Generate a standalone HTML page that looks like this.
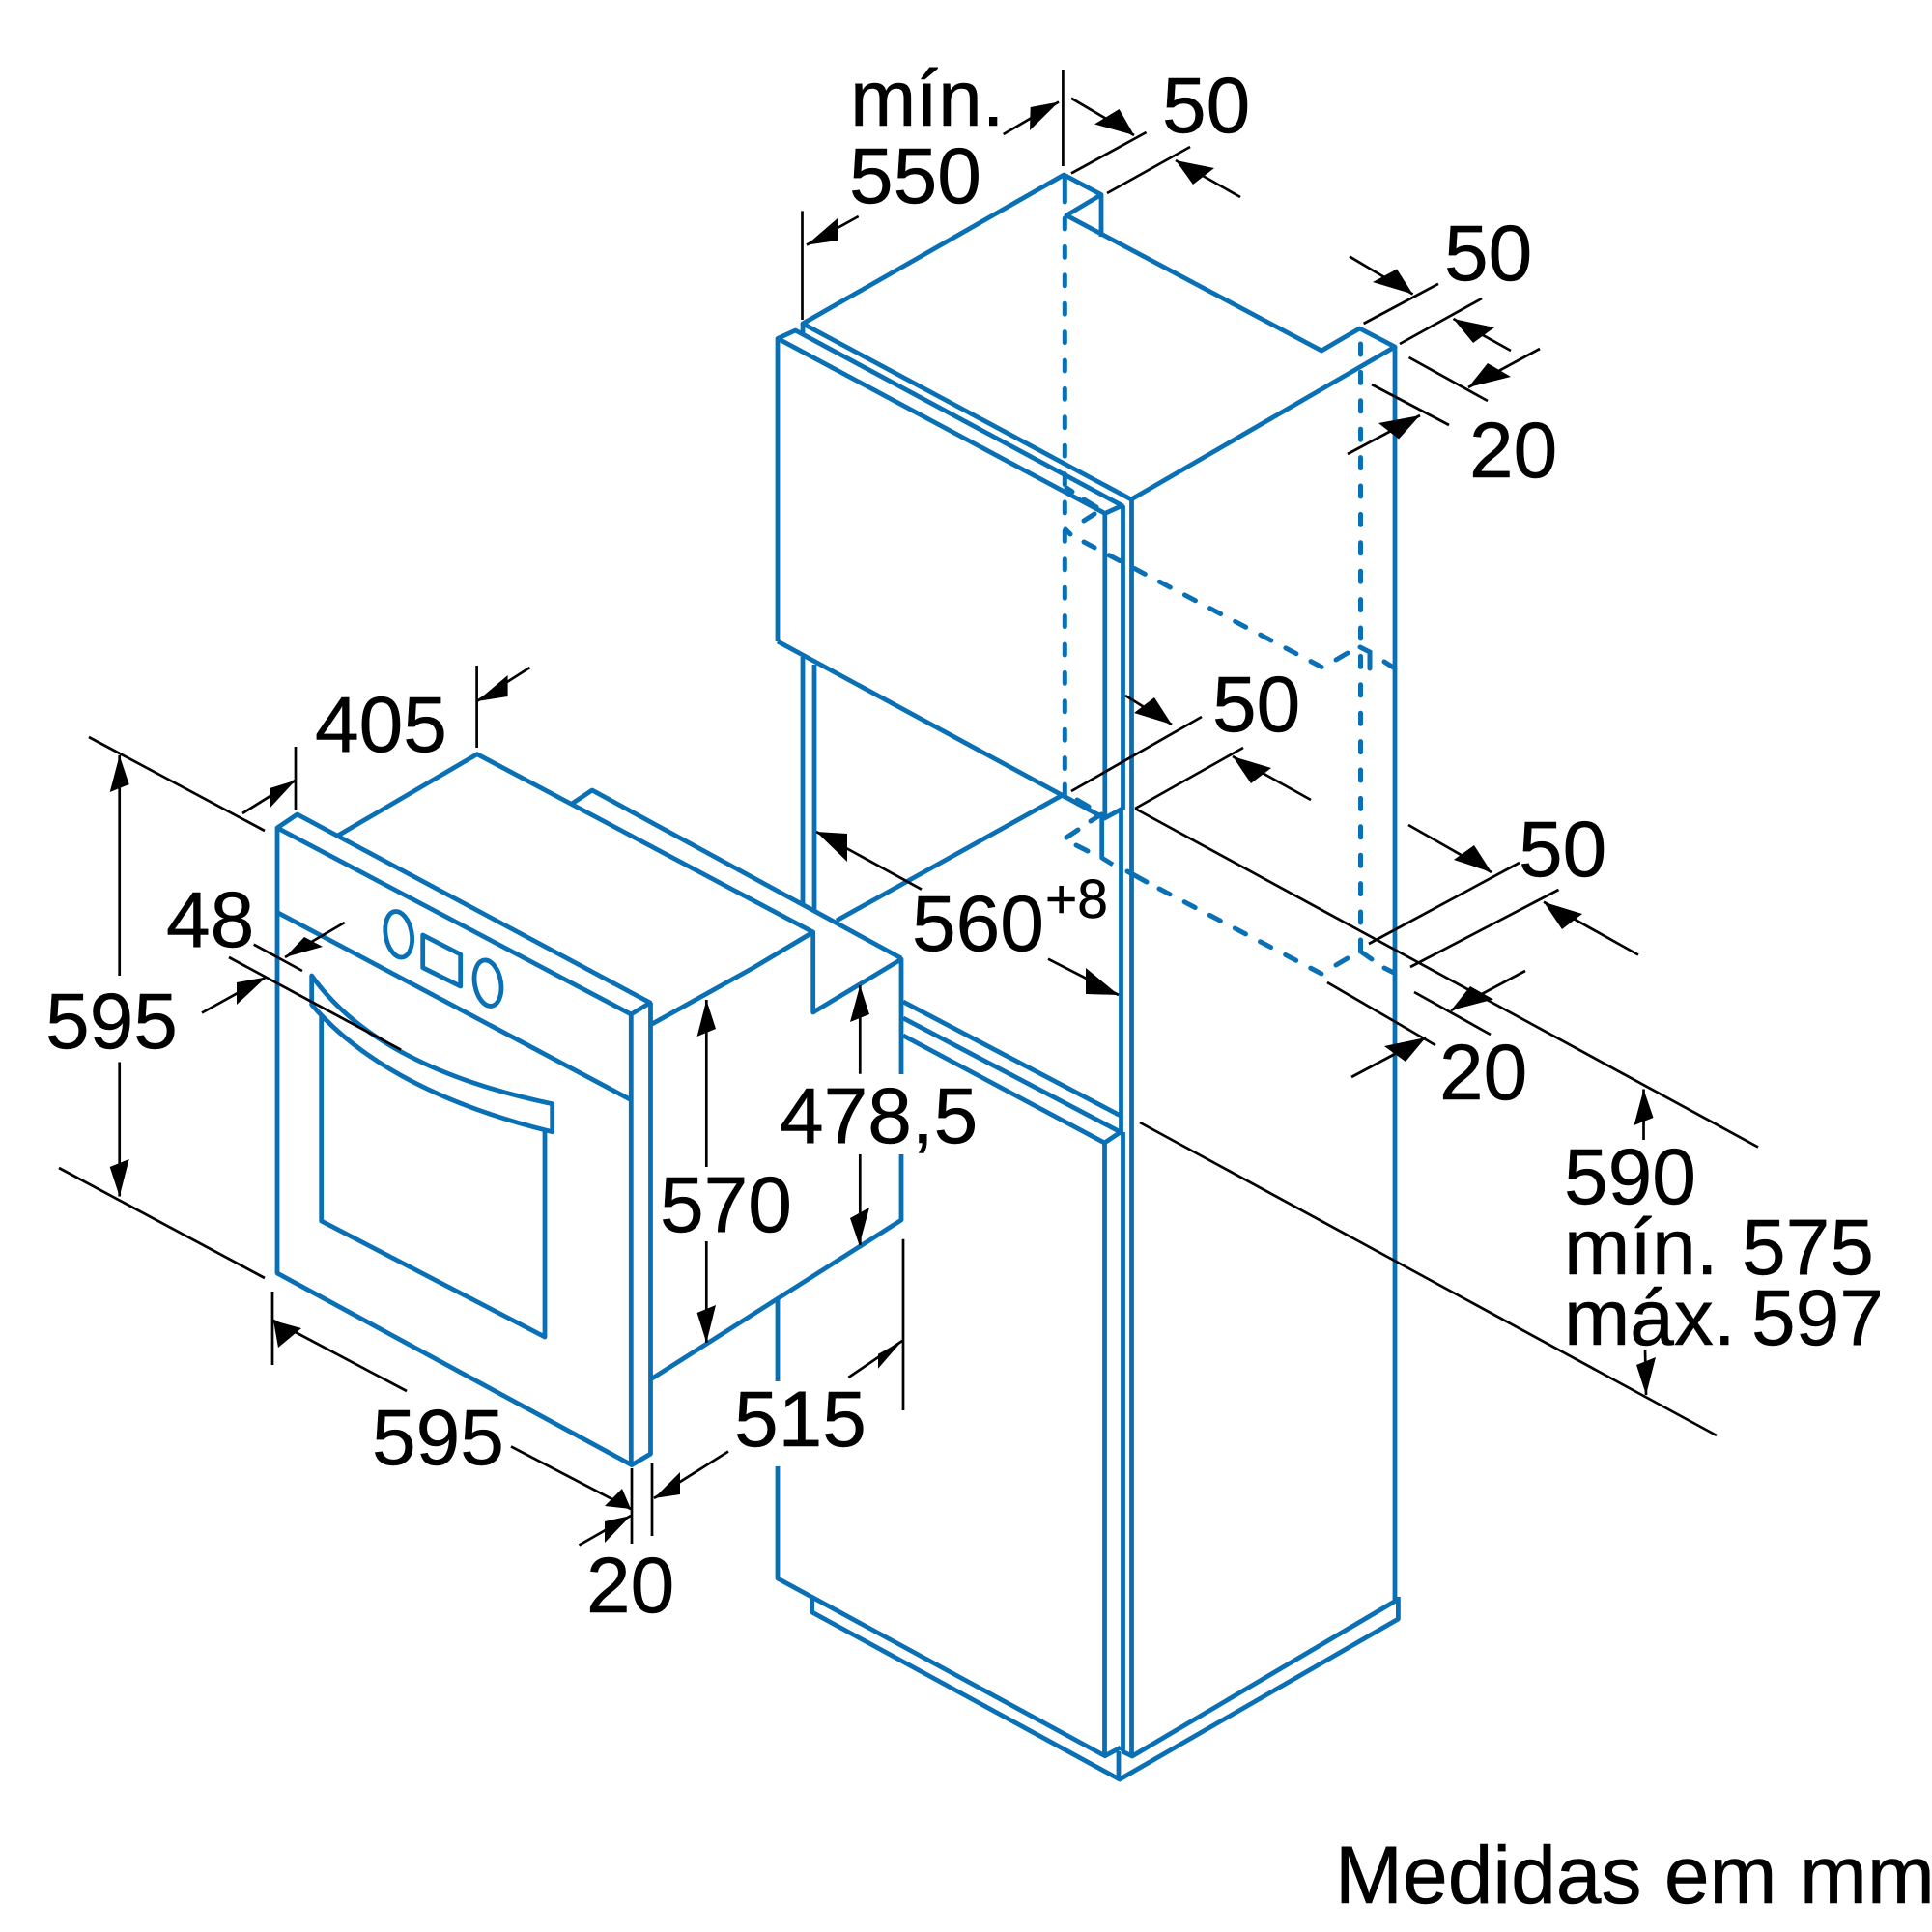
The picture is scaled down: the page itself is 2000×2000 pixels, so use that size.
<!DOCTYPE html>
<html><head><meta charset="utf-8"><style>
html,body{margin:0;padding:0;background:#fff}
svg{display:block}
text{font-family:"Liberation Sans",Arial,sans-serif;font-size:82px;fill:#000;stroke:#000;stroke-width:.5px}
</style></head><body>
<svg width="2000" height="2000" viewBox="0 0 2000 2000" xmlns="http://www.w3.org/2000/svg">
<rect width="2000" height="2000" fill="#fff"/>
<g fill="none" stroke="#0a70b5" stroke-width="4.8" stroke-linejoin="round" stroke-linecap="butt">
<!-- upper cabinet top -->
<path d="M1171 517L831 335L1101.4 181L1140 201.5L1104 223L1368 363L1407.5 340L1444 359L1171 517"/>
<path d="M1140 201.5V245M831 335V346.6"/>
<path d="M805 664V350.4L823.4 342L1161.6 523.4L1143.8 531.4L805 350.4"/>
<path d="M805 664L1101 824L1143.5 847L1162 837"/>
<path d="M1143.8 531.4V847M1162.5 523.4V838M1160.5 838V1172M1162.5 1172V1813M1171.5 517V1818M1444 359V1657"/>
<path d="M831 680V935M843 688V943M866 953L1100 823"/>
<path d="M1140.7 845V888L1152 895"/>
<!-- lower cabinet -->
<path d="M935 1037L1160 1155M935 1054L1160 1172L1143.3 1183L935 1072M1143.5 1183V1817.7"/>
<path d="M805 1345V1430M805 1518V1634L1143.8 1817.7L1160 1809"/>
<path d="M840.7 1653V1669L1159 1842L1447.4 1676V1653M1158 1813V1842M1161.7 1813L1172 1818L1445 1657"/>
<!-- oven -->
<path d="M287 857L307.7 843L673 1038L653.3 1050L287 857V1318L654 1516.6L673.5 1505V1038M653.3 1050V1516"/>
<path d="M288 945L652 1138M348 866L494 780.7L841.7 965M592 832L613 818L933 992"/>
<path d="M780 1001.7L841.7 965V1048L933 993V1112M933 1195V1263L675 1427M675 1060L780 1001.7"/>
<path d="M322.7 1010V1040Q400 1130 571.7 1171.7V1142.7Q390 1105 322.7 1010ZM332.7 1050V1264L564 1384V1171"/>
<ellipse cx="412.7" cy="967.3" rx="13.5" ry="24" transform="rotate(-10 412.7 967.3)"/>
<ellipse cx="505" cy="1017.7" rx="13.5" ry="24" transform="rotate(-10 505 1017.7)"/>
<path d="M437.7 968L476.7 988V1021L437.7 1001.7Z"/>
</g>
<!-- dashed hidden edges -->
<g fill="none" stroke="#0a70b5" stroke-width="5" stroke-linecap="round">
<path stroke-dasharray="11 18.4" d="M1102.3 226V800"/>
<path stroke-dasharray="11 18.4" d="M1408.5 356V960"/>
<path stroke-dasharray="12.5 17" d="M1122 561L1371 692"/>
<path stroke-dasharray="12.5 17" d="M1200 920L1368 1008"/>
<path d="M1102.3 184V209M1102.3 812V825M1408.5 973V985L1420 993"/>
<path d="M1383 683L1395 676M1408 670L1418 675V692M1433 685L1444 692"/>
<path d="M1383 999L1395 992M1433 1002L1443 1007M1167 902L1187 913"/>
<path d="M1104 505L1110 509M1122 517L1135 525M1122 539L1133 532M1103 548L1108 553"/>
<path d="M1115 828L1127 835M1129 850L1140 843M1104 867L1116 859M1114 875L1126 881"/>
</g>
<!-- dimension lines -->
<g fill="none" stroke="#000" stroke-width="2.7">
<path d="M1100.4 72V172M1109 179.4L1186.6 137M1146 200L1232 152M1109 101.7L1174 140M1284 204L1217 166M1038.7 139L1096 105.5M888.7 224L835 253.6M830.5 218.4V331"/>
<path d="M1397 265.5L1462.6 304.5M1411.6 335L1489 293.8M1449 356L1534 309M1564 363L1504.5 330M1594 361L1520 401M1458.6 370L1540 415M1420 398L1500 440M1395 470L1470 430"/>
<path d="M1165 720L1213 750M1109 819L1244 742M1175 837L1287 774M1357 828L1276 783M1175 837L1820 1187.5M1458 854L1544 903M1417 977L1573 893M1460 1001L1613.5 921M1696 988.5L1598 933.7M1579 1005L1502 1046M1464 1027L1543 1071M1374 1017L1486 1082M1399 1115L1476 1074M1180 1162L1777 1486"/>
<path d="M1701.5 1180V1127.5M1703 1397L1704 1444M954 920.7L845 861M1085 992.7L1158 1030"/>
<path d="M548.5 691L493.6 726M493.6 689V774M306 773V839M251 842L306 807.7M92 763L274 860M61 1209L274 1323M123.7 1010V782M123.7 1099.5V1238.5"/>
<path d="M356.7 955L295 991M262.7 977.7L313 1005M237 991L415 1086.7M209 1048.5L275.5 1011.5"/>
<path d="M731.3 1208V1035M731.3 1285V1390M890.3 1111.7V1020M890.3 1195V1289M935 1282.7V1460M878.3 1426L934 1388"/>
<path d="M282 1337V1413M421 1440L283 1367M529 1497.4L653 1562M654 1520V1598M675 1515V1590M754 1502.5L677 1551M599.5 1599.5L653 1569"/>
</g>
<!-- arrowheads -->
<g fill="#000" stroke="none">
<polygon points="1174,140 1133,128.5 1158.6,113"/>
<polygon points="1217,166 1235,191 1257,174"/>
<polygon points="1096,105.5 1066.7,111 1066,135"/>
<polygon points="835,253.6 867,226 867,249"/>
<polygon points="1462.6,304.5 1421,292 1446,278.5"/>
<polygon points="1504.5,330 1525,355 1547,339"/>
<polygon points="1520,401 1540,376 1564,390"/>
<polygon points="1470,430 1427,438 1448,454.5"/>
<polygon points="1213,750 1174,738 1195,722"/>
<polygon points="1276,783 1295,811 1316,795"/>
<polygon points="845,861 877,863 877,892"/>
<polygon points="1158,1030 1124,1002 1124,1029"/>
<polygon points="1544,903 1505,890 1526,875"/>
<polygon points="1598,933.7 1617,962 1638,946"/>
<polygon points="1502,1046 1522,1021 1546,1034.5"/>
<polygon points="1476,1074 1433,1083 1455,1099"/>
<polygon points="1701.5,1127.5 1691.5,1165 1711.5,1157"/>
<polygon points="1704,1444 1694,1413 1714,1405"/>
<polygon points="493.6,726 525.6,699 525.6,721"/>
<polygon points="306,807.7 280,815.7 280,835.7"/>
<polygon points="123.7,782 113.7,820 133.7,812"/>
<polygon points="123.7,1238.5 113.7,1208 133.7,1200"/>
<polygon points="295,991 315,970 334,980"/>
<polygon points="275.5,1011.5 245,1017 245,1040"/>
<polygon points="731.3,1035 721.6,1073 741,1065"/>
<polygon points="731.3,1390 721.6,1359 741,1351"/>
<polygon points="890.3,1020 880,1058 900,1050"/>
<polygon points="889.5,1289 880,1261 900,1250"/>
<polygon points="934,1388 909,1401.7 909,1416.7"/>
<polygon points="283,1367 288,1395 312,1375"/>
<polygon points="653,1562 626,1559 644,1541"/>
<polygon points="677,1551 704,1524 704,1547"/>
<polygon points="653,1569 626,1575 626,1597"/>
</g>
<!-- labels -->
<text x="880" y="130">mín.</text>
<text x="879" y="210">550</text>
<text x="1203" y="137">50</text>
<text x="1495" y="290">50</text>
<text x="1521" y="494">20</text>
<text x="326" y="778">405</text>
<text x="47" y="1085">595</text>
<text x="172" y="980">48</text>
<text x="683" y="1275">570</text>
<text x="807" y="1183">478,5</text>
<text x="760" y="1497">515</text>
<text x="385" y="1516">595</text>
<text x="607" y="1669">20</text>
<text x="944" y="984">560</text>
<text x="1082" y="950" style="font-size:57px">+8</text>
<text x="1255" y="757">50</text>
<text x="1572" y="907">50</text>
<text x="1490" y="1138">20</text>
<text x="1619" y="1246">590</text>
<text x="1619" y="1319">mín.</text>
<text x="1803" y="1319">575</text>
<text x="1619" y="1392">máx.</text>
<text x="1813" y="1392">597</text>
<text x="1382" y="1970" style="font-size:84px">Medidas em mm</text>
</svg>
</body></html>
